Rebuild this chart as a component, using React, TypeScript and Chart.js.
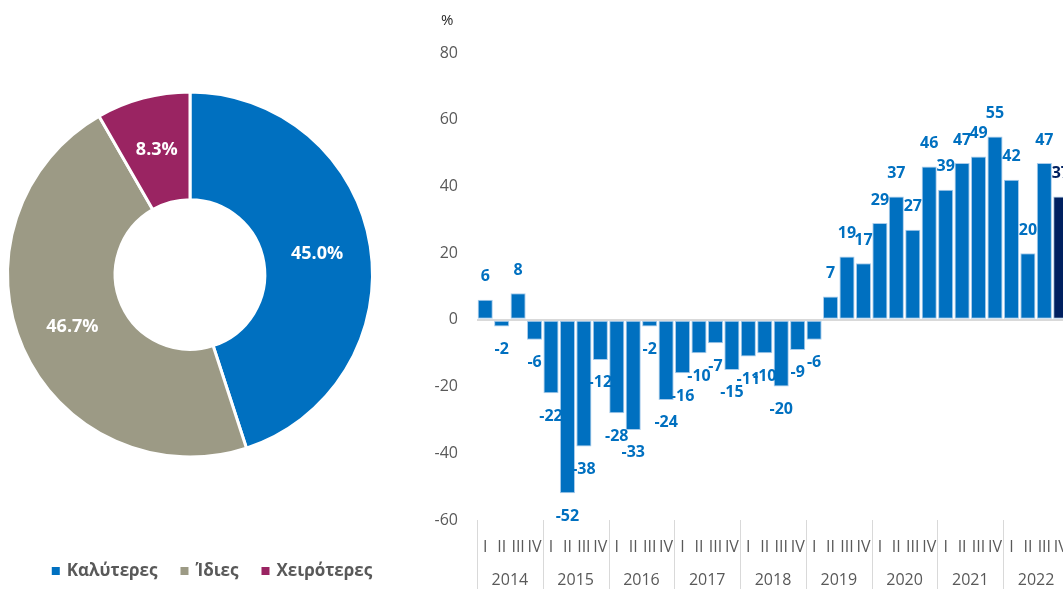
import React, { useEffect, useRef } from "react";
import { Chart, registerables } from "chart.js";

Chart.register(...registerables);

// ---------- Data ----------
const shareLabels = ["Καλύτερες", "Ίδιες", "Χειρότερες"];
const shareValues = [45.0, 46.7, 8.3];
const shareColors = ["#0070C0", "#9C9A85", "#9A2462"];

const years = ["2014", "2015", "2016", "2017", "2018", "2019", "2020", "2021", "2022"];
const quarters = ["I", "II", "III", "IV"];
const balanceValues = [
  6, -2, 8, -6,
  -22, -52, -38, -12,
  -28, -33, -2, -24,
  -16, -10, -7, -15,
  -11, -10, -20, -9,
  -6, 7, 19, 17,
  29, 37, 27, 46,
  39, 47, 49, 55,
  42, 20, 47, 37,
];
const yMin = -60;
const yMax = 80;
const yStep = 20;
const unitLabel = "%";

const FONT = "'Open Sans', sans-serif";
const BLUE = "#0070C0";
const NAVY = "#002060";
const GREY_TEXT = "#595959";

export default function App() {
  const pieRef = useRef<HTMLCanvasElement | null>(null);
  const barRef = useRef<HTMLCanvasElement | null>(null);

  useEffect(() => {
    Chart.defaults.font.family = FONT;

    const pieLabelsPlugin = {
      id: "pieLabels",
      afterDatasetsDraw(chart: any) {
        const ctx = chart.ctx;
        const meta = chart.getDatasetMeta(0);
        ctx.save();
        ctx.fillStyle = "#FFFFFF";
        ctx.font = `bold 18px ${FONT}`;
        ctx.textAlign = "center";
        ctx.textBaseline = "middle";
        meta.data.forEach((el: any, i: number) => {
          const p = el.tooltipPosition();
          ctx.fillText(shareValues[i].toFixed(1) + "%", p.x, p.y);
        });
        ctx.restore();
      },
    };

    const pieLegendPlugin = {
      id: "pieLegend",
      afterDraw(chart: any) {
        const ctx = chart.ctx;
        ctx.save();
        ctx.font = `bold 17px ${FONT}`;
        ctx.textBaseline = "middle";
        ctx.textAlign = "left";
        const box = 8;
        const gap = 7;
        const itemGap = 23;
        const widths = shareLabels.map((l) => ctx.measureText(l).width);
        const total =
          widths.reduce((a: number, b: number) => a + b + box + gap, 0) +
          itemGap * (shareLabels.length - 1);
        let x = 212 - total / 2;
        const y = 571;
        shareLabels.forEach((l, i) => {
          ctx.fillStyle = shareColors[i];
          ctx.fillRect(x, y - box / 2, box, box);
          x += box + gap;
          ctx.fillStyle = GREY_TEXT;
          ctx.fillText(l, x, y);
          x += widths[i] + itemGap;
        });
        ctx.restore();
      },
    };

    const pie = new Chart(pieRef.current!, {
      type: "doughnut",
      data: {
        labels: shareLabels,
        datasets: [
          {
            data: shareValues,
            backgroundColor: shareColors,
            borderColor: "#FFFFFF",
            borderWidth: 3,
          },
        ],
      },
      options: {
        responsive: false,
        animation: false,
        cutout: "41%",
        layout: { padding: { left: 6, right: 46, top: 90, bottom: 130 } },
        plugins: {
          legend: { display: false },
          tooltip: { enabled: false },
        },
      },
      plugins: [pieLabelsPlugin, pieLegendPlugin],
    });

    const categoryLabels = years.flatMap(() => quarters);

    const barLabelsPlugin = {
      id: "barLabels",
      afterDatasetsDraw(chart: any) {
        const ctx = chart.ctx;
        const meta = chart.getDatasetMeta(0);
        ctx.save();
        ctx.font = `bold 16px ${FONT}`;
        ctx.textAlign = "center";
        ctx.textBaseline = "middle";
        meta.data.forEach((el: any, i: number) => {
          const v = balanceValues[i];
          ctx.fillStyle = i === balanceValues.length - 1 ? NAVY : BLUE;
          const y = v >= 0 ? el.y - 23 : el.y + 23;
          ctx.fillText(String(v), el.x, y);
        });
        ctx.restore();
      },
    };

    const yearAxisPlugin = {
      id: "yearAxis",
      afterDraw(chart: any) {
        const ctx = chart.ctx;
        const xs = chart.scales.x;
        const area = chart.chartArea;
        const step = xs.getPixelForValue(1) - xs.getPixelForValue(0);
        ctx.save();
        ctx.strokeStyle = "#D9D9D9";
        ctx.lineWidth = 1;
        for (let i = 0; i <= years.length; i++) {
          const bx = Math.round(xs.getPixelForValue(i * 4) - step / 2) + 0.5;
          ctx.beginPath();
          ctx.moveTo(bx, area.bottom);
          ctx.lineTo(bx, chart.height);
          ctx.stroke();
        }
        ctx.fillStyle = GREY_TEXT;
        ctx.font = `16px ${FONT}`;
        ctx.textAlign = "center";
        ctx.textBaseline = "middle";
        years.forEach((yr, i) => {
          const cx = (xs.getPixelForValue(i * 4) + xs.getPixelForValue(i * 4 + 3)) / 2;
          ctx.fillText(yr, cx, 580);
        });
        // unit label
        ctx.fillStyle = "#262626";
        ctx.font = `15px ${FONT}`;
        ctx.textAlign = "left";
        ctx.fillText(unitLabel, area.left - 36, 21);
        ctx.restore();
      },
    };

    const bar = new Chart(barRef.current!, {
      type: "bar",
      data: {
        labels: categoryLabels,
        datasets: [
          {
            data: balanceValues,
            backgroundColor: balanceValues.map((_, i) =>
              i === balanceValues.length - 1 ? NAVY : BLUE
            ),
            borderColor: "#A9CCEB",
            borderWidth: 1,
            borderSkipped: false,
            barPercentage: 0.92,
            categoryPercentage: 1,
          },
        ],
      },
      options: {
        responsive: false,
        animation: false,
        layout: { padding: { left: 0, right: 11, top: 53, bottom: 0 } },
        plugins: {
          legend: { display: false },
          tooltip: { enabled: false },
        },
        scales: {
          x: {
            type: "category",
            grid: {
              display: true,
              drawOnChartArea: false,
              drawTicks: true,
              tickLength: 18,
              color: "rgba(0,0,0,0)",
            },
            border: { display: false },
            ticks: {
              autoSkip: false,
              maxRotation: 0,
              minRotation: 0,
              padding: 0,
              color: GREY_TEXT,
              font: { size: 16, family: FONT },
            },
            afterFit: (s: any) => {
              s.height = 69;
            },
          },
          y: {
            min: yMin,
            max: yMax,
            ticks: {
              stepSize: yStep,
              padding: 19,
              color: GREY_TEXT,
              font: { size: 16, family: FONT },
            },
            grid: {
              drawTicks: false,
              color: (c: any) => (c.tick && c.tick.value === 0 ? "#D9D9D9" : "rgba(0,0,0,0)"),
              lineWidth: 2,
            },
            border: { display: false },
            afterFit: (s: any) => {
              s.width = 97;
            },
          },
        },
      },
      plugins: [barLabelsPlugin, yearAxisPlugin],
    });

    return () => {
      pie.destroy();
      bar.destroy();
    };
  }, []);

  return (
    <div
      style={{
        position: "fixed",
        left: 0,
        top: 0,
        width: 1063,
        height: 589,
        overflow: "hidden",
        background: "#FFFFFF",
      }}
    >
      <canvas
        ref={pieRef}
        width={420}
        height={589}
        style={{ position: "absolute", left: 0, top: 0, width: 420, height: 589 }}
      />
      <canvas
        ref={barRef}
        width={700}
        height={589}
        style={{ position: "absolute", left: 380, top: 0, width: 700, height: 589 }}
      />
    </div>
  );
}
